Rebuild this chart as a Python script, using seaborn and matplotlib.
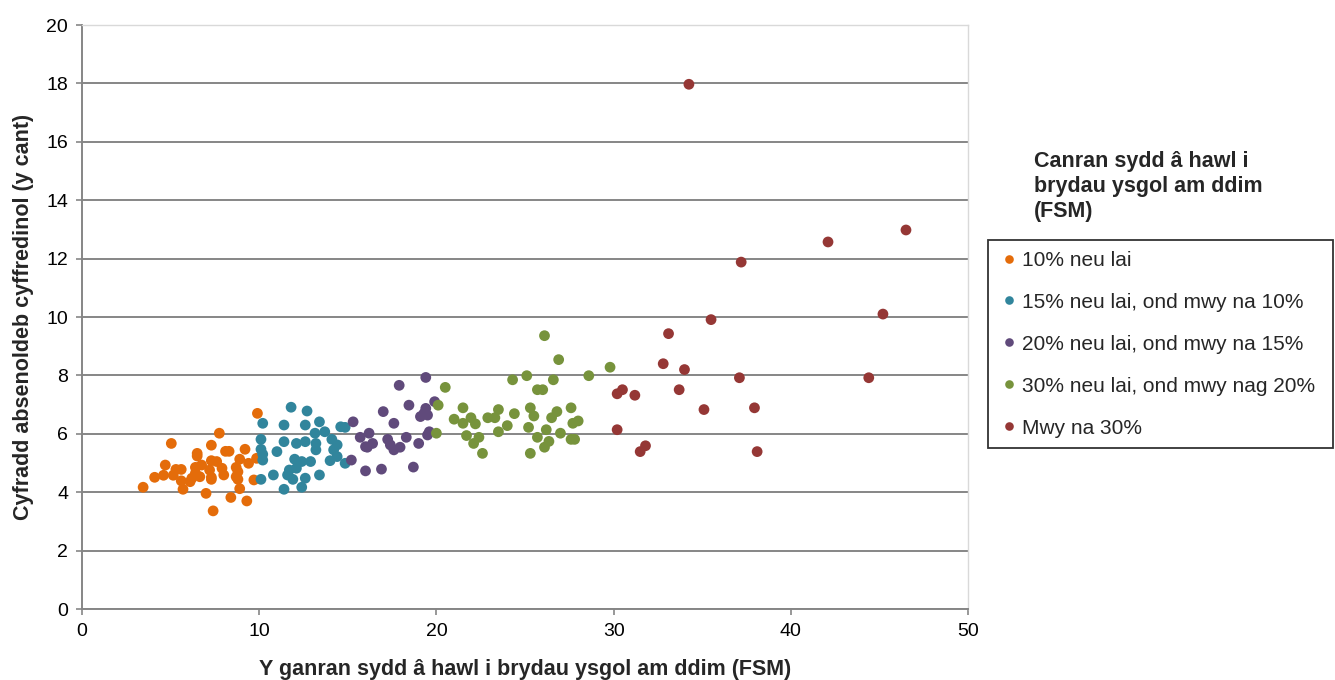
import matplotlib
matplotlib.use("Agg")
import matplotlib.pyplot as plt
import pandas as pd
import seaborn as sns

# data, one pair of lists per FSM band
fsm_10 = [9.9, 7.75, 5.04, 7.3, 6.5, 6.5, 8.1, 8.3, 9.2, 9.85, 8.9, 9.4, 7.3, 7.6, 6.75,
          6.4, 7.2, 7.9, 8.7, 4.7, 5.6, 5.3, 8.8, 4.6, 5.15, 6.4, 6.65, 7.3, 8.0, 8.7,
          4.1, 6.2, 5.6, 6.1, 7.3, 8.8, 9.7, 5.7, 3.45, 8.9, 7.0, 8.4, 9.3, 7.4]
abs_10 = [6.70, 6.02, 5.67, 5.61, 5.33, 5.24, 5.40, 5.40, 5.47, 5.16, 5.13, 4.99, 5.08, 5.05, 4.93,
          4.85, 4.76, 4.82, 4.85, 4.93, 4.78, 4.78, 4.70, 4.58, 4.58, 4.65, 4.53, 4.51, 4.59, 4.53,
          4.51, 4.48, 4.39, 4.36, 4.44, 4.44, 4.42, 4.10, 4.17, 4.12, 3.96, 3.82, 3.70, 3.36]

fsm_15 = [11.8, 12.7, 10.2, 11.4, 13.4, 14.6, 14.85, 13.15, 13.7, 10.1, 11.4, 12.1, 12.6, 13.2,
          14.1, 14.4, 10.1, 11.0, 13.2, 14.2, 10.2, 12.0, 12.4, 12.9, 14.0, 14.4, 14.85, 11.7,
          12.1, 10.8, 11.6, 12.6, 11.9, 10.1, 13.4, 12.4, 11.4, 10.2, 12.6]
abs_15 = [6.91, 6.78, 6.36, 6.30, 6.41, 6.24, 6.22, 6.02, 6.07, 5.81, 5.73, 5.67, 5.73, 5.67,
          5.81, 5.62, 5.47, 5.39, 5.45, 5.45, 5.10, 5.13, 5.05, 5.05, 5.08, 5.22, 4.99, 4.76,
          4.82, 4.59, 4.59, 4.48, 4.44, 4.44, 4.59, 4.17, 4.10, 5.30, 6.30]

fsm_20 = [19.4, 17.9, 18.45, 19.9, 19.4, 19.3, 19.1, 19.5, 17.0, 17.6, 15.3, 19.6, 16.2, 15.7,
          17.25, 18.3, 16.4, 16.1, 17.4, 19.0, 17.6, 17.95, 15.2, 16.0, 16.9, 18.7, 19.5, 16.0]
abs_20 = [7.93, 7.66, 6.98, 7.10, 6.87, 6.70, 6.59, 6.64, 6.76, 6.36, 6.41, 6.07, 6.02, 5.88,
          5.81, 5.88, 5.67, 5.54, 5.62, 5.67, 5.45, 5.54, 5.10, 4.73, 4.79, 4.86, 5.96, 5.56]

fsm_30 = [26.1, 26.9, 24.3, 25.1, 26.6, 28.6, 20.5, 25.7, 26.0, 20.1, 21.5, 23.5, 24.4, 25.3,
          26.8, 27.6, 21.0, 21.95, 21.5, 22.2, 22.9, 23.3, 25.5, 26.5, 24.0, 25.2, 27.7, 28.0,
          20.0, 21.7, 23.5, 26.2, 27.0, 22.4, 25.7, 27.6, 27.8, 22.1, 26.35, 26.1, 22.6, 25.3,
          29.8]
abs_30 = [9.36, 8.54, 7.85, 7.99, 7.85, 7.99, 7.59, 7.51, 7.51, 6.98, 6.89, 6.83, 6.69, 6.89,
          6.76, 6.89, 6.50, 6.55, 6.36, 6.34, 6.55, 6.55, 6.61, 6.55, 6.28, 6.22, 6.36, 6.44,
          6.02, 5.94, 6.07, 6.14, 6.02, 5.88, 5.88, 5.81, 5.81, 5.67, 5.74, 5.54, 5.33, 5.33,
          8.28]

fsm_over = [34.25, 46.5, 42.1, 37.2, 45.2, 35.5, 33.1, 32.8, 34.0, 37.1, 44.4, 30.5, 30.2,
            31.2, 33.7, 35.1, 37.95, 30.2, 31.8, 31.5, 38.1]
abs_over = [17.97, 12.98, 12.57, 11.88, 10.10, 9.91, 9.43, 8.40, 8.20, 7.92, 7.92, 7.51, 7.37,
            7.32, 7.51, 6.83, 6.89, 6.14, 5.59, 5.39, 5.39]

band_labels = ["10% neu lai",
               "15% neu lai, ond mwy na 10%",
               "20% neu lai, ond mwy na 15%",
               "30% neu lai, ond mwy nag 20%",
               "Mwy na 30%"]
band_colours = ["#E46C0A", "#31859C", "#604A7B", "#77933C", "#953735"]

xs = [fsm_10, fsm_15, fsm_20, fsm_30, fsm_over]
ys = [abs_10, abs_15, abs_20, abs_30, abs_over]
frames = []
for lab, x, y in zip(band_labels, xs, ys):
    frames.append(pd.DataFrame({"fsm": x, "absence": y, "band": lab}))
df = pd.concat(frames, ignore_index=True)

sns.set_theme(style="white")
plt.rcParams["font.family"] = ["Liberation Sans", "DejaVu Sans"]

W, H = 1335, 680
fig = plt.figure(figsize=(W / 100, H / 100), dpi=100)
ax = fig.add_axes([82 / W, (H - 609) / H, 886 / W, 584 / H])

sns.scatterplot(data=df, x="fsm", y="absence", hue="band", hue_order=band_labels,
                palette=band_colours, s=60, linewidth=0, ax=ax, zorder=3)

ax.set_xlim(0, 50)
ax.set_ylim(0, 20)
ax.set_xticks(range(0, 51, 10))
ax.set_yticks(range(0, 21, 2))
ax.tick_params(labelsize=14, labelcolor="black", length=4, width=1.2, color="#868686",
               direction="out", left=True, bottom=True, pad=6)
ax.yaxis.grid(True, color="#868686", linewidth=1.4, zorder=0)
ax.set_axisbelow(True)
for side in ["left", "bottom"]:
    ax.spines[side].set_color("#868686")
    ax.spines[side].set_linewidth(1.4)
for side in ["top", "right"]:
    ax.spines[side].set_color("#D9D9D9")
    ax.spines[side].set_linewidth(1)

ax.set_xlabel("Y ganran sydd â hawl i brydau ysgol am ddim (FSM)", fontsize=15.5,
              fontweight="bold", labelpad=14)
ax.set_ylabel("Cyfradd absenoldeb cyffredinol (y cant)", fontsize=15.5,
              fontweight="bold", labelpad=9)

leg = ax.legend(loc="upper left", bbox_to_anchor=(988 / W, (H - 447) / H, 345 / W, 207 / H),
                bbox_transform=fig.transFigure, mode="expand", borderaxespad=0,
                fontsize=15, frameon=True, fancybox=False, edgecolor="black",
                markerscale=0.8, labelspacing=1.1, handletextpad=0.1, borderpad=0.52,
                handlelength=1.0)
leg.get_frame().set_linewidth(1.3)

fig.text(1034 / W, 1 - 151 / H, "Canran sydd â hawl i\nbrydau ysgol am ddim\n(FSM)",
         fontsize=15.5, fontweight="bold", ha="left", va="top", linespacing=1.25)

fig.savefig("out.png", dpi=100)
